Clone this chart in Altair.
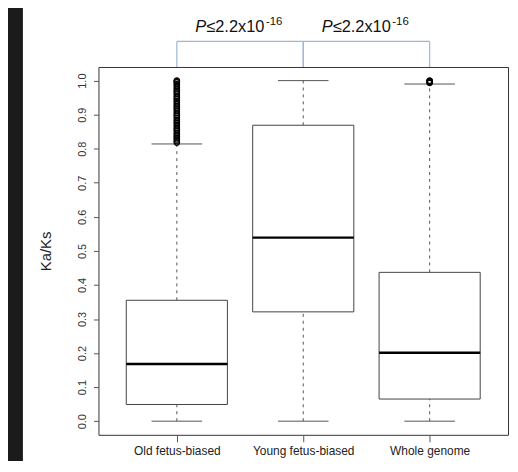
import altair as alt
import pandas as pd

# ---- data ----
categories = ["Old fetus-biased", "Young fetus-biased", "Whole genome"]
positions = [1, 2, 3]
lower_whisker = [0.0, 0.0, 0.0]
q1 = [0.049, 0.321, 0.065]
median = [0.168, 0.539, 0.201]
q3 = [0.355, 0.869, 0.437]
upper_whisker = [0.814, 1.0, 0.990]

old_outliers = [0.818, 0.822, 0.827, 0.831, 0.836, 0.840, 0.845, 0.851, 0.856,
                0.860, 0.866, 0.871, 0.876, 0.880, 0.885, 0.891, 0.896, 0.900,
                0.905, 0.911, 0.916, 0.921, 0.925, 0.930, 0.936, 0.941, 0.946,
                0.950, 0.955, 0.961, 0.966, 0.970, 0.975, 0.980, 0.986, 0.990,
                0.995, 0.998, 1.000]
whole_outliers = [0.993, 0.995, 0.997, 0.999, 1.000]

# significance brackets (between group positions)
bracket_from = [1, 2]
bracket_to = [2, 3]
bracket_level = 1.115
p_prefix = ["P", "P"]
p_value = ["\u22642.2x10", "\u22642.2x10"]
p_exponent = ["-16", "-16"]
p_text_level = 1.142

y_ticks = [0.0, 0.1, 0.2, 0.3, 0.4, 0.5, 0.6, 0.7, 0.8, 0.9, 1.0]
y_domain = [-0.04, 1.04]
x_domain = [0.38, 3.62]

# ---- tables ----
box_df = pd.DataFrame({
    "cat": categories, "pos": positions, "lower": lower_whisker, "q1": q1,
    "median": median, "q3": q3, "upper": upper_whisker,
})
box_df["lo"] = box_df["pos"] - 0.4
box_df["hi"] = box_df["pos"] + 0.4
box_df["cap_lo"] = box_df["pos"] - 0.2
box_df["cap_hi"] = box_df["pos"] + 0.2

out_df = pd.DataFrame({
    "pos": [1] * len(old_outliers) + [3] * len(whole_outliers),
    "value": old_outliers + whole_outliers,
})

seg_rows = []
for a, b in zip(bracket_from, bracket_to):
    seg_rows.append({"x": a, "x2": b, "y": bracket_level, "y2": bracket_level})
    seg_rows.append({"x": a, "x2": a, "y": y_domain[1], "y2": bracket_level})
    seg_rows.append({"x": b, "x2": b, "y": y_domain[1], "y2": bracket_level})
seg_df = pd.DataFrame(seg_rows)

txt_df = pd.DataFrame({
    "mid": [(a + b) / 2 for a, b in zip(bracket_from, bracket_to)],
    "ty": [p_text_level] * len(bracket_from),
    "pre": p_prefix, "val": p_value, "exp": p_exponent,
})

# ---- shared scales / axes ----
label_expr = " : ".join(
    f"datum.value == {p} ? '{c}'" for p, c in zip(positions[:-1], categories[:-1])
) + f" : '{categories[-1]}'"

xscale = alt.Scale(domain=x_domain, nice=False, zero=False)
yscale = alt.Scale(domain=y_domain, nice=False, zero=False)
xaxis = alt.Axis(values=positions, labelExpr=label_expr, title=None, domain=False,
                 grid=False, tickSize=7, tickColor="#555", labelPadding=4,
                 labelFontSize=12, labelColor="#222", labelFlush=False,
                 labelOverlap=False)
yaxis = alt.Axis(values=y_ticks, format=".1f", title="Ka/Ks", domain=False,
                 grid=False, tickSize=5, tickColor="#555", labelAngle=270,
                 labelAlign="center", labelBaseline="bottom", labelPadding=6,
                 labelFontSize=11, labelColor="#333", labelOverlap=False,
                 titleFontSize=15, titleFontWeight="normal", titleColor="#222",
                 titleAngle=270, titleAlign="center", titleBaseline="middle",
                 titleX=-53, titleY=185)


def X(f):
    return alt.X(f, type="quantitative", scale=xscale, axis=xaxis)


def Y(f):
    return alt.Y(f, type="quantitative", scale=yscale, axis=yaxis)


strip = alt.Chart(pd.DataFrame({"a": [0]})).mark_rect(
    color="#1b1b1b", clip=False
).encode(x=alt.value(-91), x2=alt.value(-76), y=alt.value(-60), y2=alt.value(400))

base = alt.Chart(box_df)
boxes = base.mark_rect(fill="white", stroke="#444", strokeWidth=1).encode(
    x=X("lo"), x2="hi", y=Y("q1"), y2="q3")
wh_up = base.mark_rule(color="#555", strokeDash=[3, 4], strokeWidth=1).encode(
    x=X("pos"), y=Y("q3"), y2="upper")
wh_lo = base.mark_rule(color="#555", strokeDash=[3, 4], strokeWidth=1).encode(
    x=X("pos"), y=Y("lower"), y2="q1")
cap_up = base.mark_rule(color="#555", strokeWidth=1).encode(
    x=X("cap_lo"), x2="cap_hi", y=Y("upper"))
cap_lo = base.mark_rule(color="#555", strokeWidth=1).encode(
    x=X("cap_lo"), x2="cap_hi", y=Y("lower"))
med = base.mark_rule(color="black", strokeWidth=2.5).encode(
    x=X("lo"), x2="hi", y=Y("median"))

outl = alt.Chart(out_df).mark_point(
    shape="circle", filled=False, size=30, color="black", strokeWidth=1.2, opacity=1
).encode(x=X("pos"), y=Y("value"))

brk = alt.Chart(seg_df).mark_rule(color="#9fb6d3", strokeWidth=1.2, clip=False).encode(
    x=X("x"), x2="x2", y=Y("y"), y2="y2")

tbase = alt.Chart(txt_df)
t_pre = tbase.mark_text(align="left", baseline="alphabetic", dx=-45, fontSize=16.5,
                        font="Liberation Sans", fontStyle="italic", color="#111",
                        clip=False).encode(x=X("mid"), y=Y("ty"), text="pre:N")
t_val = tbase.mark_text(align="left", baseline="alphabetic", dx=-34, fontSize=16.5,
                        font="Liberation Sans", color="#111",
                        clip=False).encode(x=X("mid"), y=Y("ty"), text="val:N")
t_exp = tbase.mark_text(align="left", baseline="alphabetic", dx=26, dy=-7, fontSize=11.5,
                        font="Liberation Sans", color="#111",
                        clip=False).encode(x=X("mid"), y=Y("ty"), text="exp:N")

chart = alt.layer(
    strip, boxes, wh_up, wh_lo, cap_up, cap_lo, med, outl, brk, t_pre, t_val, t_exp
).properties(
    width=412, height=370,
    autosize=alt.AutoSizeParams(type="none"),
    padding={"left": 91, "top": 58, "right": 2, "bottom": 25},
    background="white",
).configure_view(
    stroke="#333", strokeWidth=1
).configure_axis(
    labelFont="Liberation Sans", titleFont="Liberation Sans"
)

chart.save("out.html", embed_options={"renderer": "svg", "actions": False})
